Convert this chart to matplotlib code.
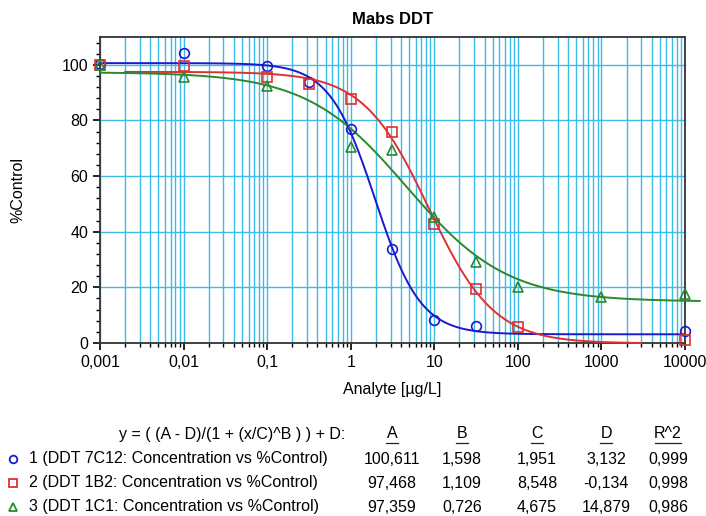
import numpy as np
import matplotlib
matplotlib.use("Agg")
from matplotlib import pyplot as plt
from matplotlib.ticker import FuncFormatter, LogLocator, MultipleLocator
from matplotlib.lines import Line2D

plt.rcParams['font.family'] = ['Liberation Sans', 'DejaVu Sans']

x_blue = [0.001, 0.01, 0.1, 0.316, 1, 3.16, 10, 31.6, 10000]
y_blue = [100.2, 104.3, 99.6, 94.0, 77.0, 33.7, 8.3, 6.1, 4.3]
x_red = [0.001, 0.01, 0.1, 0.316, 1, 3.16, 10, 31.6, 100, 10000]
y_red = [100.0, 99.6, 95.8, 93.2, 87.7, 76.0, 42.8, 19.3, 5.6, 1.1]
x_green = [0.001, 0.01, 0.1, 1, 3.16, 10, 31.6, 100, 1000, 10000]
y_green = [100.0, 95.6, 92.4, 70.6, 69.4, 45.3, 29.2, 20.3, 16.7, 17.6]

# fitted 4PL parameters from the table
names = ["1 (DDT 7C12: Concentration vs %Control)",
         "2 (DDT 1B2: Concentration vs %Control)",
         "3 (DDT 1C1: Concentration vs %Control)"]
par_A = [100.611, 97.468, 97.359]
par_B = [1.598, 1.109, 0.726]
par_C = [1.951, 8.548, 4.675]
par_D = [3.132, -0.134, 14.879]
par_R2 = [0.999, 0.998, 0.986]
fit_range = [(0.001, 10000), (0.002, 3000), (0.001, 15000)]

colors = ["#1a1acc", "#e03030", "#2a8a2a"]
markers = ["o", "s", "^"]
points = [(x_blue, y_blue), (x_red, y_red), (x_green, y_green)]


def fourpl(x, a, b, c, d):
    return (a - d) / (1 + (x / c) ** b) + d


def comma(v, pos=None):
    if v >= 1:
        return "%d" % round(v)
    s = ("%.3f" % v).rstrip("0")
    return s.replace(".", ",")


fig = plt.figure(figsize=(7.06, 5.16), dpi=100)
ax = fig.add_axes([100 / 706, 1 - 343 / 516, 585 / 706, 306 / 516])

for i in range(3):
    lo, hi = fit_range[i]
    xs = np.logspace(np.log10(lo), np.log10(hi), 400)
    ax.plot(xs, fourpl(xs, par_A[i], par_B[i], par_C[i], par_D[i]),
            color=colors[i], lw=1.4, clip_on=False, zorder=3)
    ax.plot(points[i][0], points[i][1], linestyle="none", marker=markers[i],
            ms=7, mfc="none", mec=colors[i], mew=1.2, clip_on=False, zorder=4)

ax.set_xscale("log")
ax.set_xlim(0.001, 10000)
ax.set_ylim(0, 110)
ax.xaxis.set_major_locator(LogLocator(base=10, numticks=20))
ax.xaxis.set_minor_locator(LogLocator(base=10, subs=np.arange(2, 10), numticks=100))
ax.xaxis.set_major_formatter(FuncFormatter(comma))
ax.yaxis.set_major_locator(MultipleLocator(20))
ax.yaxis.set_minor_locator(MultipleLocator(4))
ax.set_yticks([0, 20, 40, 60, 80, 100])

ax.grid(True, which="both", axis="x", color="#3cbbe8", lw=1.0)
ax.grid(True, which="major", axis="y", color="#3cbbe8", lw=1.0)
ax.set_axisbelow(True)
ax.tick_params(which="major", direction="out", length=5, width=1.2, labelsize=11.5)
ax.tick_params(which="minor", direction="out", length=3, width=1.0)
for s in ax.spines.values():
    s.set_linewidth(1.3)
    s.set_color("#333333")

ax.set_title("Mabs DDT", fontsize=12, fontweight="bold", pad=9)
ax.set_ylabel("%Control", fontsize=11.5, labelpad=26)
ax.set_xlabel("Analyte [µg/L]", fontsize=11.5, labelpad=9)

# table of fit results under the plot
def fy(py):
    return 1 - py / 516


def fx(px):
    return px / 706


fs = 11.5
fig.text(fx(345), fy(434), "y = ( (A - D)/(1 + (x/C)^B ) ) + D:", ha="right",
         va="center", fontsize=fs)
col_x = [392, 462, 537, 606, 668]
headers = ["A", "B", "C", "D", "R^2"]
half_w = [6, 6, 6, 6, 13]
for cx, h, hw in zip(col_x, headers, half_w):
    fig.text(fx(cx), fy(434), h, ha="center", va="center", fontsize=fs)
    fig.add_artist(Line2D([fx(cx - hw), fx(cx + hw)], [fy(443), fy(443)],
                          color="#222222", lw=0.9))

row_y = [459, 483, 507]
for i in range(3):
    fig.add_artist(Line2D([fx(13)], [fy(row_y[i])], marker=markers[i], ms=5.5,
                          mfc="none", mec=colors[i], mew=1.3, linestyle="none"))
    fig.text(fx(29), fy(row_y[i]), names[i], ha="left", va="center", fontsize=fs)
    vals = ["%.3f" % par_A[i], "%.3f" % par_B[i], "%.3f" % par_C[i],
            "%.3f" % par_D[i], "%.3f" % par_R2[i]]
    for cx, v in zip(col_x, vals):
        fig.text(fx(cx), fy(row_y[i]), v.replace(".", ","), ha="center",
                 va="center", fontsize=fs)

fig.savefig("out.png", dpi=100)
